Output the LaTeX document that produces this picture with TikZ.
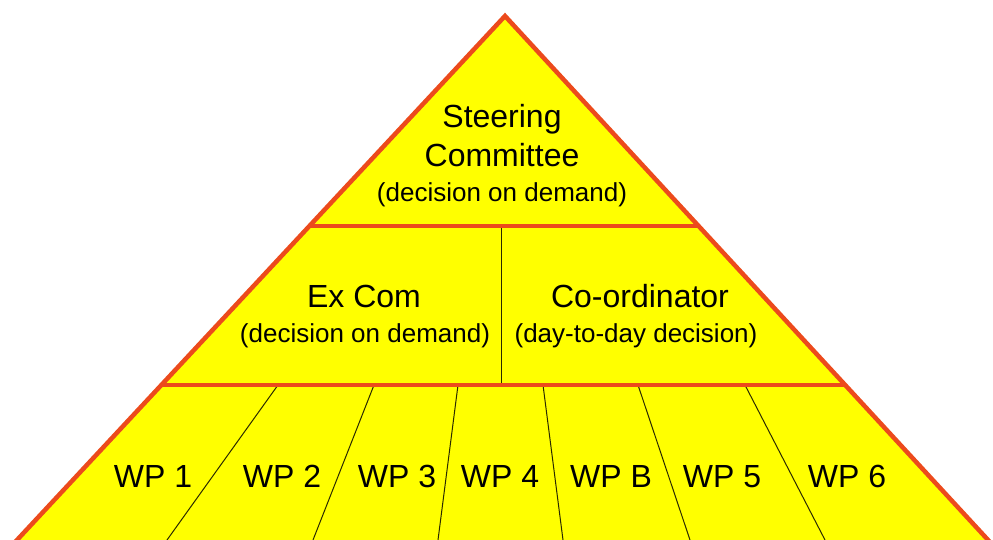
\documentclass[tikz,border=0pt]{standalone}
\usepackage{fontspec}
\setmainfont{Liberation Sans}
\usepackage{tikz}
\usetikzlibrary{calc}
\definecolor{PyrYellow}{HTML}{FFFF00}
\definecolor{PyrRed}{HTML}{EC4A1C}
\definecolor{PyrLine}{HTML}{2A2A00}
\tikzset{
    % Tier heading
    heading/.style={
        anchor=base,
        inner sep=0pt,
        font=\fontsize{32}{38}\selectfont
    },
    % Small note under a heading
    note/.style={
        anchor=base,
        inner sep=0pt,
        font=\fontsize{26}{31}\selectfont
    },
    % Work package label
    wp/.style={
        anchor=base,
        inner sep=0pt,
        font=\fontsize{32}{38}\selectfont
    },
    % Red rim and tier borders
    rim/.style={
        draw=PyrRed,
        line width=4.5pt,
        line join=miter
    },
    % Thin divider between boxes
    divider/.style={
        draw=PyrLine,
        line width=1pt
    }
}

\begin{document}
\begin{tikzpicture}[x=1pt, y=-1pt]
        \useasboundingbox (0,0) rectangle (993,540);
        \clip (0,0) rectangle (993,540);

        % Pyramid corners (base lies below the page edge)
        \coordinate (top) at (505,16);
        \coordinate (bl) at (-1.6,560);
        \coordinate (br) at (1006.5,560);
        \fill [PyrYellow] (top) -- (bl) -- (br) -- cycle;

        % Tier borders
        \coordinate (l1) at ($(top)!0.386!(bl)$);
        \coordinate (r1) at ($(top)!0.386!(br)$);
        \coordinate (l2) at ($(top)!0.678!(bl)$);
        \coordinate (r2) at ($(top)!0.678!(br)$);
        \coordinate (mid1) at (501,226);
        \coordinate (mid2) at (501,385);

        % Dividers
        \draw [divider] (mid1) -- (mid2);
        \foreach \a/\b in {278/167, 374/313, 458/438, 543/563, 638/690, 745/825}
            \draw [divider] (\a,385) -- (\b,540);

        \draw [rim] (l1) -- (r1);
        \draw [rim] (l2) -- (r2);
        \draw [rim] (bl) -- (top) -- (br);

        % Top tier
        \node (steer1) [heading] at (502,128) {Steering};
        \node (steer2) [heading] at (502,167) {Committee};
        \node (steernote) [note] at (502,202) {(decision on demand)};

        % Middle tier
        \node (excom) [heading] at (364,307) {Ex Com};
        \node (excomnote) [note] at (365,342) {(decision on demand)};
        \node (coord) [heading] at (640,307) {Co-ordinator};
        \node (coordnote) [note] at (636,342) {(day-to-day decision)};

        % Work packages
        \foreach \x/\lbl [count=\i] in {153/WP 1, 282/WP 2, 397/WP 3, 500/WP 4, 611/WP B, 722/WP 5, 847/WP 6}
            \node (wp\i) [wp] at (\x,487) {\lbl};
    \end{tikzpicture}
\end{document}
